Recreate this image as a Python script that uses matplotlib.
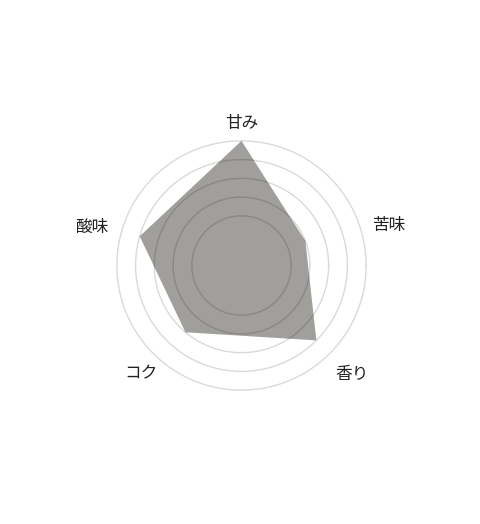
import matplotlib
matplotlib.use("Agg")
import matplotlib.pyplot as plt
import numpy as np

plt.rcParams['font.family'] = ['Noto Sans CJK JP', 'DejaVu Sans']

# chart data
categories = ["甘み", "苦味", "香り", "コク", "酸味"]
values = [5, 2, 4, 3, 4]
rings = [1, 2, 3, 4, 5]

# axis directions in the original drawing (degrees, counter-clockwise from east)
axis_deg = [90, 21, -45, -130, 164]
# where the names sit: direction and distance from the centre in pixels
label_deg = [90, 15, -44.7, -132.8, 165.6]
label_px = [142.5, 153.7, 155.6, 147.9, 154.4]

px_per_unit = 18.75
theta = np.deg2rad(axis_deg)
r_min, r_max = -1.65, 5.2

fig = plt.figure(figsize=(4.8, 5.24), dpi=100)
ax = fig.add_axes([0.2356, 0.2483, 0.535, 0.490], projection='polar')
ax.set_ylim(r_min, r_max)
ax.set_xticks([])
ax.set_yticks([])
ax.grid(False)
ax.spines['polar'].set_visible(False)
ax.set_facecolor('none')

# filled shape
ax.fill(np.append(theta, theta[0]), values + values[:1],
        color='#a19f9c', linewidth=0, zorder=2)

# rings over the fill
t = np.linspace(0, 2 * np.pi, 400)
for ring in rings:
    ax.plot(t, np.full_like(t, ring), color='black', alpha=0.15,
            linewidth=1.0, zorder=3)

# category labels
for ang, dist, name in zip(label_deg, label_px, categories):
    ax.text(np.deg2rad(ang), r_min + dist / px_per_unit, name,
            ha='center', va='center', fontsize=12,
            color='#222222', clip_on=False)

fig.savefig("out.png", dpi=100)
